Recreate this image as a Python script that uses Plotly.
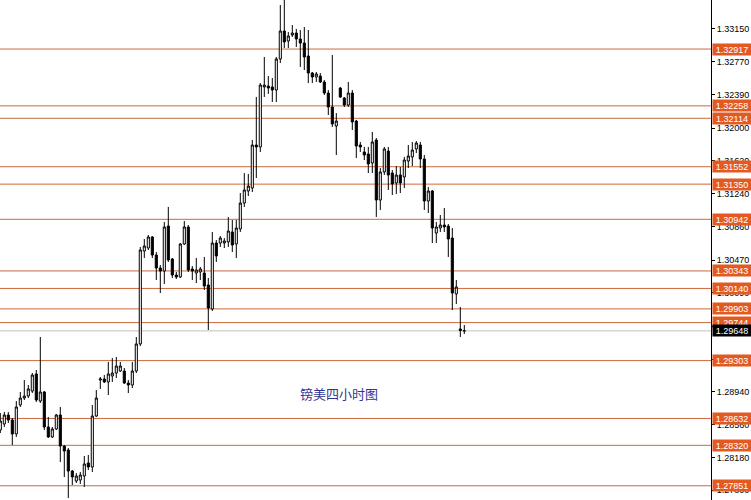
import plotly.graph_objects as go

# ---- OHLC data (GBP/USD, 4H) ----
open_ = [1.28498,1.28568,1.28672,1.28614,1.28452,1.28788,1.28869,1.28892,1.28950,1.29148,
         1.28834,1.28939,1.28533,1.28417,1.28510,1.28672,1.28312,1.28266,1.28022,1.27906,
         1.27918,1.27964,1.28115,1.28069,1.28660,1.29078,1.29090,1.29055,1.29124,1.29159,
         1.29182,1.29182,1.29043,1.29020,1.29182,1.29496,1.30574,1.30609,1.30737,1.30528,
         1.30377,1.30342,1.30864,1.30482,1.30296,1.30273,1.30656,1.30853,1.30366,1.30319,
         1.30331,1.30319,1.30180,1.29902,1.30667,1.30667,1.30667,1.30679,1.30795,1.30656,
         1.30830,1.31131,1.31270,1.31305,1.31804,1.31781,1.32477,1.32488,1.32477,1.32442,
         1.32802,1.33126,1.33010,1.33080,1.33103,1.33034,1.32987,1.32836,1.32639,1.32593,
         1.32604,1.32535,1.32407,1.32245,1.32024,1.32465,1.32349,1.32268,1.32407,1.32082,
         1.31804,1.31723,1.31700,1.31595,1.31862,1.31166,1.31491,1.31734,1.31479,1.31363,
         1.31456,1.31433,1.31618,1.31665,1.31758,1.31804,1.31642,1.31154,1.31270,1.30783,
         1.30841,1.30876,1.30864,1.30725,1.30076,1.29670,1.29650]
high = [1.28695,1.28707,1.28707,1.28637,1.28834,1.28939,1.29078,1.29020,1.29159,1.29194,
        1.29577,1.28950,1.28649,1.28533,1.28684,1.28765,1.28324,1.28289,1.28034,1.27999,
        1.28011,1.28196,1.28208,1.28788,1.28962,1.29113,1.29136,1.29287,1.29333,1.29345,
        1.29287,1.29217,1.29078,1.29287,1.29577,1.30621,1.30714,1.30760,1.30748,1.30563,
        1.30412,1.30911,1.31085,1.30493,1.30331,1.30667,1.30922,1.30876,1.30400,1.30493,
        1.30389,1.30505,1.30261,1.30795,1.30702,1.30748,1.30725,1.30969,1.30934,1.30934,
        1.31247,1.31479,1.31468,1.31862,1.32361,1.32523,1.32825,1.32604,1.32581,1.32825,
        1.33428,1.33500,1.33115,1.33196,1.33150,1.33138,1.33173,1.33138,1.32651,1.32651,
        1.32639,1.32558,1.32442,1.32848,1.32175,1.32477,1.32361,1.32535,1.32442,1.32094,
        1.31839,1.31781,1.31781,1.31955,1.31885,1.31537,1.31781,1.31781,1.31514,1.31560,
        1.31549,1.31665,1.31804,1.31839,1.31850,1.31839,1.31688,1.31317,1.31282,1.30911,
        1.30992,1.31073,1.30888,1.30841,1.30238,1.29925,1.29716]
low = [1.28463,1.28533,1.28579,1.28324,1.28417,1.28765,1.28846,1.28869,1.28927,1.28823,
       1.28811,1.28498,1.28405,1.28405,1.28498,1.28127,1.27953,1.27709,1.27860,1.27883,
       1.27872,1.27837,1.28034,1.28011,1.28649,1.28974,1.29043,1.28904,1.29055,1.29101,
       1.29171,1.29032,1.28927,1.28985,1.29159,1.29472,1.30493,1.30586,1.30493,1.30238,
       1.30087,1.30192,1.30447,1.30261,1.30250,1.30261,1.30644,1.30331,1.30238,1.30203,
       1.30238,1.30122,1.29658,1.29878,1.30447,1.30621,1.30609,1.30621,1.30563,1.30493,
       1.30795,1.31085,1.31212,1.31259,1.31421,1.31723,1.32361,1.32396,1.32303,1.32303,
       1.32755,1.32929,1.32929,1.33057,1.32941,1.32709,1.32674,1.32523,1.32523,1.32535,
       1.32523,1.32384,1.32152,1.32013,1.31688,1.32349,1.32245,1.32245,1.31978,1.31653,
       1.31723,1.31630,1.31479,1.31479,1.30969,1.31050,1.31456,1.31282,1.31224,1.31236,
       1.31247,1.31305,1.31537,1.31560,1.31711,1.31537,1.31050,1.31015,1.30667,1.30667,
       1.30795,1.30795,1.30505,1.29890,1.29960,1.29577,1.29612]
close = [1.28602,1.28672,1.28614,1.28452,1.28765,1.28869,1.28892,1.28974,1.29136,1.28846,
         1.28939,1.28533,1.28417,1.28510,1.28672,1.28312,1.28254,1.28022,1.27953,1.27964,
         1.27976,1.28104,1.28069,1.28660,1.28869,1.29090,1.29055,1.29148,1.29159,1.29240,
         1.29240,1.29043,1.29020,1.29182,1.29496,1.30586,1.30632,1.30737,1.30528,1.30377,
         1.30342,1.30853,1.30470,1.30296,1.30273,1.30656,1.30853,1.30354,1.30342,1.30354,
         1.30366,1.30168,1.29913,1.30667,1.30516,1.30725,1.30690,1.30806,1.30644,1.30841,
         1.31131,1.31282,1.31328,1.31804,1.31781,1.32500,1.32500,1.32465,1.32442,1.32802,
         1.33126,1.32999,1.33068,1.33103,1.33034,1.32987,1.32825,1.32639,1.32593,1.32628,
         1.32535,1.32407,1.32245,1.32048,1.32082,1.32361,1.32268,1.32407,1.32071,1.31792,
         1.31781,1.31688,1.31584,1.31839,1.31166,1.31491,1.31758,1.31456,1.31352,1.31456,
         1.31363,1.31630,1.31676,1.31746,1.31827,1.31642,1.31154,1.31270,1.30841,1.30853,
         1.30876,1.30853,1.30714,1.30087,1.30157,1.29652,1.29648]
bars = list(range(len(open_)))

# ---- horizontal support / resistance levels ----
levels = [1.32917, 1.32258, 1.32114, 1.31552, 1.31350, 1.30942, 1.30343,
          1.30140, 1.29903, 1.29744, 1.29303, 1.28632, 1.28320, 1.27851]
current_price = 1.29648

# ---- price-axis tick labels ----
tick_vals = [1.33150, 1.32770, 1.32390, 1.32000, 1.31620, 1.31240, 1.30860,
             1.30470, 1.30090, 1.29700, 1.29320, 1.28940, 1.28560, 1.28180, 1.27800]
tick_text = ["%.5f" % v for v in tick_vals]

title_text = "镑美四小时图"

LINE_COLOR = "#CC6A3C"
BOX_COLOR = "#E25A22"
FONT = "Liberation Sans, Arial, sans-serif"

fig = go.Figure()
fig.add_trace(go.Candlestick(
    x=bars, open=open_, high=high, low=low, close=close,
    increasing=dict(line=dict(color="black", width=1), fillcolor="white"),
    decreasing=dict(line=dict(color="black", width=1), fillcolor="black"),
    whiskerwidth=0, hoverinfo="skip", showlegend=False,
))

shapes = []
annotations = []
for lv in levels:
    shapes.append(dict(type="line", xref="paper", x0=0, x1=1, yref="y", y0=lv, y1=lv,
                       line=dict(color=LINE_COLOR, width=1), layer="below"))
    annotations.append(dict(xref="paper", x=1, xanchor="left", xshift=1,
                            yref="y", y=lv, yanchor="middle", text="%.5f" % lv,
                            showarrow=False, bgcolor=BOX_COLOR, width=38, height=11,
                            borderpad=0, align="center",
                            font=dict(family=FONT, size=9, color="white")))
shapes.append(dict(type="line", xref="paper", x0=0, x1=1, yref="y",
                   y0=current_price, y1=current_price,
                   line=dict(color="#C0C0C0", width=1), layer="below"))
annotations.append(dict(xref="paper", x=1, xanchor="left", xshift=1,
                        yref="y", y=current_price, yanchor="middle",
                        text="%.5f" % current_price, showarrow=False,
                        bgcolor="black", width=38, height=11, borderpad=0,
                        font=dict(family=FONT, size=9, color="white")))
annotations.append(dict(xref="x", x=84.6, yref="y", y=1.28927, text=title_text,
                        showarrow=False, xanchor="center", yanchor="middle",
                        font=dict(family="Noto Sans CJK SC", size=13, color="#2E3592")))

fig.update_layout(
    width=751, height=500,
    margin=dict(l=0, r=40, t=0, b=0, autoexpand=False),
    paper_bgcolor="white", plot_bgcolor="white",
    boxgap=0.25,
    shapes=shapes, annotations=annotations,
    xaxis=dict(range=[-0.075, 177.675], visible=False, rangeslider=dict(visible=False),
               showgrid=False, zeroline=False, automargin=False),
    yaxis=dict(range=[1.27686, 1.33486], side="right", showgrid=False, zeroline=False,
               automargin=False,
               tickvals=tick_vals, ticktext=tick_text, ticks="outside", ticklen=3,
               tickcolor="black", showline=True, linecolor="black", linewidth=1,
               tickfont=dict(family=FONT, size=9, color="black")),
    hovermode=False,
)

fig.write_html(
    "out.html",
    config={"displayModeBar": False, "staticPlot": True},
    post_script="document.body.style.margin='0';document.body.style.overflow='hidden';",
)
